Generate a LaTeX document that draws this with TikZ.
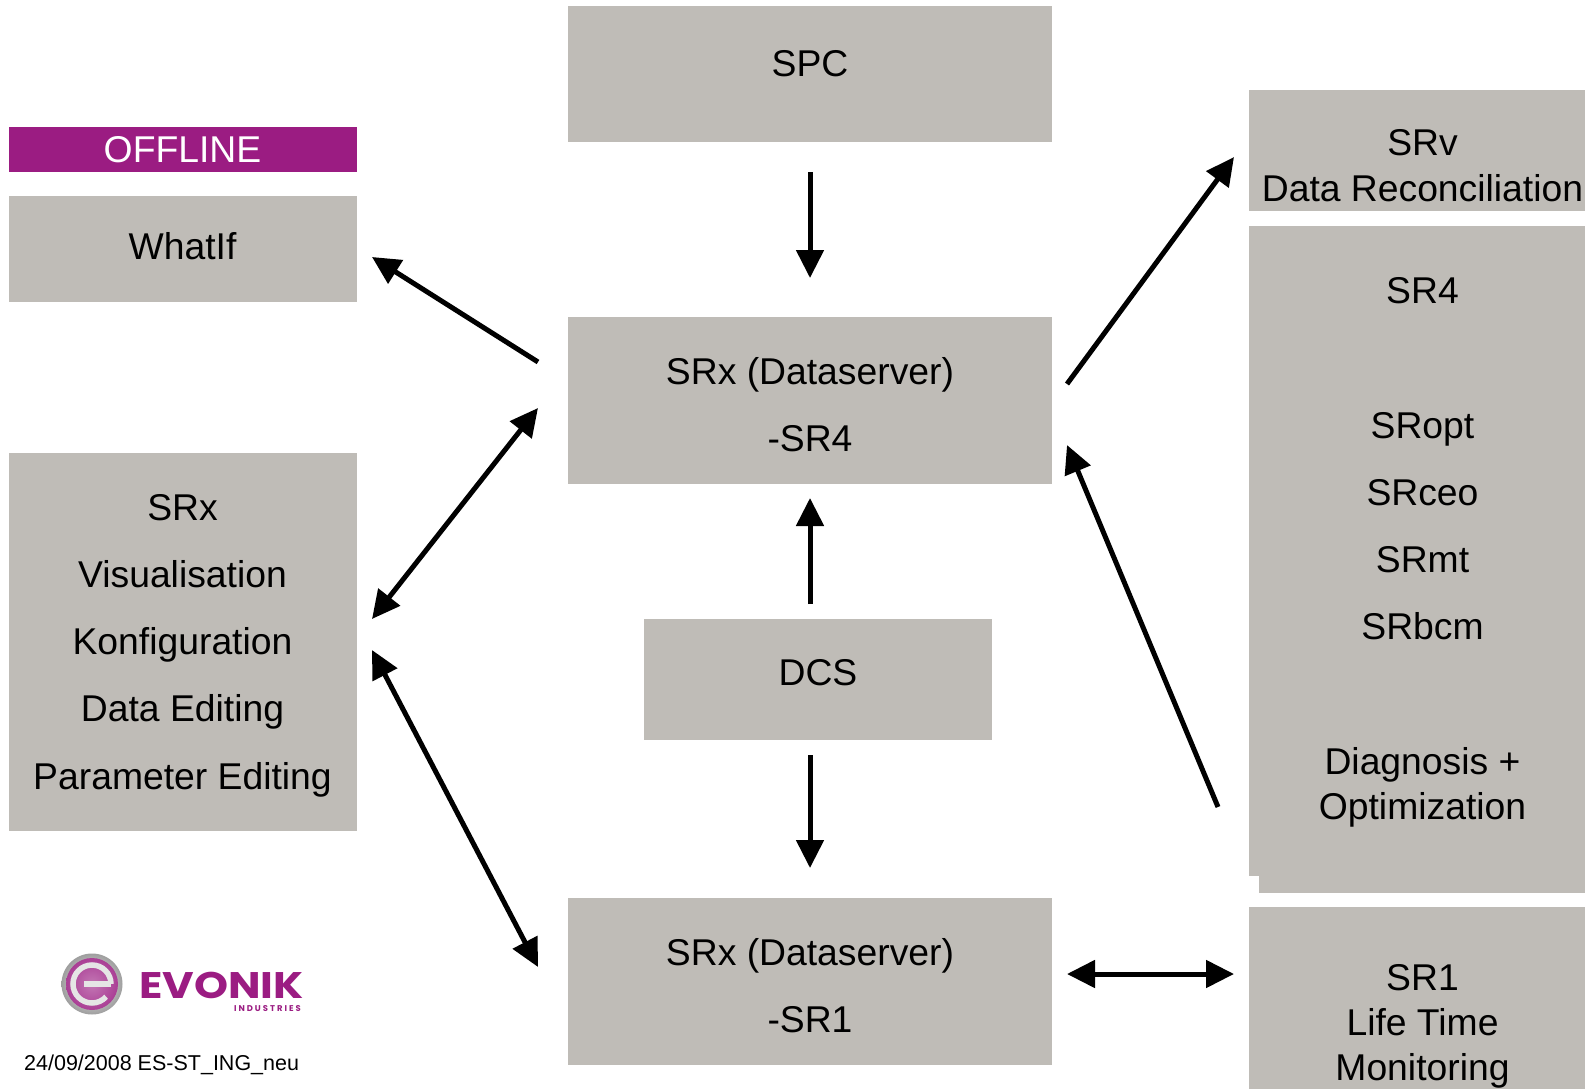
\documentclass[tikz,border=0pt]{standalone}
\usepackage{fontspec}
\setmainfont{Liberation Sans}
\newfontfamily\logofont{Poppins}
\newfontfamily\logospaced[LetterSpace=24]{Poppins}
\usetikzlibrary{arrows.meta}
\definecolor{boxgrey}{HTML}{BFBCB7}
\definecolor{evpurple}{HTML}{9B1C82}
\tikzset{
  x=1pt,y=-1pt,
  box/.style={fill=boxgrey,draw=none},
  lab/.style={anchor=base,inner sep=0pt,font=\fontsize{37.3}{40}\selectfont,text=black},
  conn/.style={line width=5pt,-{Triangle[length=28pt,width=27pt]}},
  conndouble/.style={line width=5pt,{Triangle[length=28pt,width=27pt]}-{Triangle[length=28pt,width=27pt]}},
}
\newcommand{\boxat}[5]{\fill[box] (#2,#3) rectangle (#4,#5); \coordinate (#1) at ({(#2+#4)/2},{(#3+#5)/2});}
\begin{document}
\begin{tikzpicture}
\useasboundingbox (0,0) rectangle (1585,1089);
\fill[white] (0,0) rectangle (1585,1089);
% boxes
\boxat{spc}{568}{6}{1052}{142}
\fill[evpurple] (9,127) rectangle (357,172);
\boxat{whatif}{9}{196}{357}{302}
\boxat{srxleft}{9}{453}{357}{831}
\boxat{srxfour}{568}{317}{1052}{484}
\boxat{dcs}{644}{619}{992}{740}
\boxat{srxone}{568}{898}{1052}{1065}
\boxat{srv}{1249}{90}{1585}{211}
\boxat{srfour}{1249}{226}{1585}{876}
\fill[box] (1259,870) rectangle (1585,893);
\boxat{srone}{1249}{907}{1585}{1089}
% labels
\node[lab] (tspc) at (810,76.7) {SPC};
\node[lab,text=white] (toff) at (182.5,163) {OFFLINE};
\node[lab] (twi) at (182.5,259) {WhatIf};
\node[lab] (ta1) at (182.5,520) {SRx};
\node[lab] (ta2) at (182.5,587) {Visualisation};
\node[lab] (ta3) at (182.5,654) {Konfiguration};
\node[lab] (ta4) at (182.5,721.5) {Data Editing};
\node[lab] (ta5) at (182.5,789) {Parameter Editing};
\node[lab] (tb1) at (810,384) {SRx (Dataserver)};
\node[lab] (tb2) at (810,451) {-SR4};
\node[lab] (tdcs) at (818,685.5) {DCS};
\node[lab] (tc1) at (810,965) {SRx (Dataserver)};
\node[lab] (tc2) at (810,1032) {-SR1};
\node[lab] (td1) at (1422.5,156) {SRv};
\node[lab] (td2) at (1422.5,201) {Data Reconciliation};
\node[lab] (te1) at (1422.5,303) {SR4};
\node[lab] (te2) at (1422.5,438) {SRopt};
\node[lab] (te3) at (1422.5,505) {SRceo};
\node[lab] (te4) at (1422.5,572) {SRmt};
\node[lab] (te5) at (1422.5,639) {SRbcm};
\node[lab] (te6) at (1422.5,774) {Diagnosis +};
\node[lab] (te7) at (1422.5,819) {Optimization};
\node[lab] (tf1) at (1422.5,990) {SR1};
\node[lab] (tf2) at (1422.5,1035) {Life Time};
\node[lab] (tf3) at (1422.5,1080) {Monitoring};
\node[anchor=base west,inner sep=0pt,font=\fontsize{21.5}{24}\selectfont] (tfoot) at (24,1070) {24/09/2008 ES-ST\_ING\_neu};
% connector ends
\coordinate (a1) at (810,172); \coordinate (a2) at (810,278);
\coordinate (b1) at (538,362); \coordinate (b2) at (372,257);
\coordinate (c1) at (538,408); \coordinate (c2) at (372,619);
\coordinate (d1) at (372,650); \coordinate (d2) at (538,967);
\coordinate (e1) at (810,604); \coordinate (e2) at (810,498);
\coordinate (f1) at (810,755); \coordinate (f2) at (810,868);
\coordinate (g1) at (1067,384); \coordinate (g2) at (1234,157);
\coordinate (h1) at (1218,807); \coordinate (h2) at (1067,445);
\coordinate (i1) at (1067,974); \coordinate (i2) at (1234,974);
\draw[conn] (a1) -- (a2);
\draw[conn] (b1) -- (b2);
\draw[conndouble] (c1) -- (c2);
\draw[conndouble] (d1) -- (d2);
\draw[conn] (e1) -- (e2);
\draw[conn] (f1) -- (f2);
\draw[conn] (g1) -- (g2);
\draw[conn] (h1) -- (h2);
\draw[conndouble] (i1) -- (i2);
% logo
\coordinate (lc) at (92,984);
\shade[inner color=white,outer color=black!38] (lc) circle (30.5);
\shade[inner color=evpurple!60,outer color=evpurple!85] (lc) circle (26);
\draw[line width=5.5pt,black!10] ([shift={(19,0)}]lc) arc[start angle=0,end angle=-318,radius=19];
\draw[line width=5.5pt,black!10] ([shift={(19,0)}]lc) -- ([shift={(-8,0)}]lc);
\node[anchor=base west,inner sep=0pt,text=evpurple,font=\logofont\bfseries\fontsize{37}{37}\selectfont,xscale=1.17,transform shape] (lev) at (139,998) {EVONIK};
\node[anchor=base east,inner sep=0pt,text=evpurple,font=\logospaced\bfseries\fontsize{8.4}{9}\selectfont] (lin) at (301,1011) {INDUSTRIES};
\end{tikzpicture}
\end{document}
